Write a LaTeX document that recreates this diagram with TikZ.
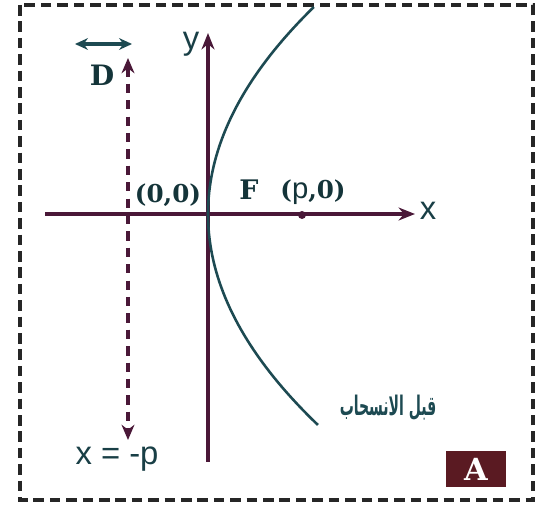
\documentclass[tikz,border=0pt]{standalone}
\usepackage{fontspec}
\newfontfamily\sanslabel{Liberation Sans}
\newfontfamily\heavyserif{DejaVu Serif}
\newfontfamily\arabicfont[Script=Arabic]{DejaVu Sans}
\TeXXeTstate=1
\definecolor{axiscol}{HTML}{4A1838}
\definecolor{tealcol}{HTML}{1D4A52}
\definecolor{boxcol}{HTML}{5A1A22}
\usetikzlibrary{arrows.meta}
\tikzset{
  axis/.style={axiscol, line width=3pt, -{Stealth[length=14pt,width=11pt]}},
  lbl/.style={inner sep=0pt, font=\sanslabel\fontsize{28}{30}\selectfont, text=tealcol!85!black},
  bold/.style={inner sep=0pt, font=\heavyserif\bfseries\fontsize{21}{23}\selectfont, text=tealcol!70!black}
}
\begin{document}
\begin{tikzpicture}[x=0.03cm, y=-0.03cm]
\useasboundingbox (0,0) rectangle (547,508);
\draw[black!85, line width=3.4pt, dash pattern=on 9pt off 5pt](20,5) rectangle (533,500);
% axes
\coordinate (xl) at (45,214);
\coordinate (xr) at (415,214);
\coordinate (yb) at (208,462);
\coordinate (yt) at (208,33);
\draw[axis](xl)--(xr);
\draw[axis](yb)--(yt);
\node[lbl] (xlab) at (428,211) {x};
\node[lbl] (ylab) at (191,44) {y};
% directrix
\coordinate (dt) at (128,58);
\coordinate (db) at (128,440);
\draw[axiscol, line width=3pt, dash pattern=on 8pt off 6pt, {Stealth[length=13pt,width=11pt]}-{Stealth[length=13pt,width=11pt]}](dt)--(db);
\node[lbl] (dir) at (117,459) {x = -p};
\node[bold, font=\heavyserif\bfseries\fontsize{24}{26}\selectfont] (D) at (102,75) {D};
\coordinate (wl) at (75,44);
\coordinate (wr) at (132,44);
\draw[tealcol, line width=2.8pt, {Stealth[length=11pt,width=10pt]}-{Stealth[length=11pt,width=10pt]}](wl)--(wr);
% parabola
\draw[tealcol, line width=2.2pt, variable=\t, domain=-2.07:2.11, samples=80] plot ({208+24.7*\t*\t},{214+100*\t});
\node[fill=axiscol, circle, inner sep=2.4pt] (F0) at (302,215) {};
\node[bold] (orig) at (168,195) {(0,0)};
\node[bold, font=\heavyserif\bfseries\fontsize{23}{25}\selectfont] (F) at (249,190) {F};
\node[bold] (foc) at (313,192) {({\sanslabel\mdseries\fontsize{25}{27}\selectfont p},0)};
\node[inner sep=0pt, text=tealcol, font=\arabicfont\bfseries\fontsize{23}{25}\selectfont] (before) at (388,408) {\scalebox{0.52}[1]{\beginR قبل الانسحاب\endR}};
\node[fill=boxcol, minimum width=52pt, minimum height=30pt, inner sep=0pt, text=white, font=\heavyserif\bfseries\fontsize{26}{28}\selectfont] (A) at (476,469) {A};
\end{tikzpicture}
\end{document}
